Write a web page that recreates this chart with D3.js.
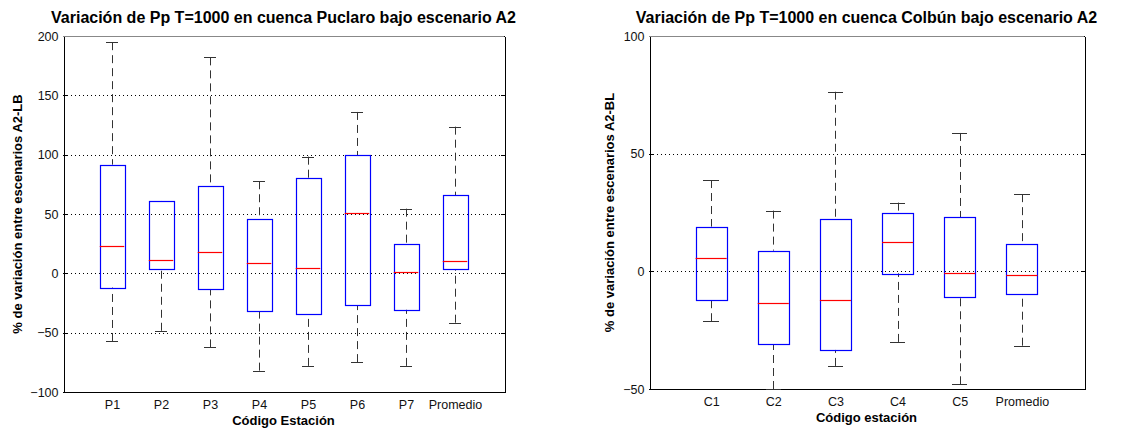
<!DOCTYPE html>
<html>
<head>
<meta charset="utf-8">
<script src="https://cdn.jsdelivr.net/npm/d3@7"></script>
<style>
  body { margin: 0; background: #fff; }
  svg { font-family: "Liberation Sans", Arial, sans-serif; display: block; }
</style>
</head>
<body>
<script>
// Puclaro basin, scenario A2 vs LB
const puclaroStations = ["P1", "P2", "P3", "P4", "P5", "P6", "P7", "Promedio"];
const puclaroLower = [-57, -48.4, -62.4, -82, -78, -74.8, -78, -41.6];
const puclaroQ1 = [-12, 3.6, -13.2, -31.8, -34.3, -26.7, -30.7, 3.4];
const puclaroMedian = [23, 11, 18.2, 9, 4.7, 51, 0.8, 10];
const puclaroQ3 = [91.6, 61, 74, 46, 80.4, 99.7, 25, 65.8];
const puclaroUpper = [194.8, 61, 182, 77.6, 98.3, 136, 54.5, 123.6];
const puclaroTicks = [-100, -50, 0, 50, 100, 150, 200];

// Colbun basin, scenario A2 vs BL
const colbunStations = ["C1", "C2", "C3", "C4", "C5", "Promedio"];
const colbunLower = [-21.2, -50, -40.2, -30, -48, -31.6];
const colbunQ1 = [-12.2, -30.9, -33.4, -0.85, -11, -9.8];
const colbunMedian = [5.7, -13.3, -12, 12.5, -0.6, -1.4];
const colbunQ3 = [19, 8.8, 22.1, 25, 23, 11.6];
const colbunUpper = [38.8, 25.8, 76.3, 29.2, 58.8, 32.8];
const colbunTicks = [-50, 0, 50, 100];

const w = 1148;
const h = 428;

const svg = d3.select("body").append("svg").attr("width", w).attr("height", h);
svg.append("rect").attr("width", w).attr("height", h).attr("fill", "#fff");

const px = (v) => Math.round(v) + 0.5;

const drawPanel = (opt) => {
  const n = opt.names.length;
  const x = d3.scaleLinear().domain([0, n + 1]).range([opt.left, opt.right]);
  const y = d3.scaleLinear().domain(opt.domain).range([opt.bottom, opt.top]);
  const g = svg.append("g");

  // grid
  g.selectAll("line.grid")
    .data(opt.ticks)
    .enter()
    .append("line")
    .attr("class", "grid")
    .attr("x1", opt.left)
    .attr("x2", opt.right)
    .attr("y1", (d) => px(y(d)))
    .attr("y2", (d) => px(y(d)))
    .attr("stroke", "#000")
    .attr("stroke-dasharray", "1,3")
    .attr("shape-rendering", "crispEdges");

  // y axis (left, ticks inside)
  const yAxis = d3.axisLeft(y).tickValues(opt.ticks).tickSizeInner(-4).tickSizeOuter(0).tickPadding(5);
  const ya = g.append("g").attr("transform", `translate(${px(opt.left)},0)`).call(yAxis);
  ya.attr("font-family", null);
  ya.selectAll("text").attr("font-size", "12.5px").attr("fill", "#111");

  // right side ticks
  const yAxisR = d3.axisRight(y).tickValues(opt.ticks).tickSizeInner(-4).tickSizeOuter(0).tickFormat("");
  g.append("g").attr("transform", `translate(${px(opt.right)},0)`).call(yAxisR);

  // x axis
  const xAxis = d3.axisBottom(x)
    .tickValues(d3.range(1, n + 1))
    .tickFormat((d) => opt.names[d - 1])
    .tickSize(0)
    .tickPadding(8);
  const xa = g.append("g").attr("transform", `translate(0,${px(opt.bottom)})`).call(xAxis);
  xa.attr("font-family", null);
  xa.selectAll("text").attr("font-size", "12.5px").attr("fill", "#111");
  xa.select(".domain").attr("d", `M${px(opt.left)},0H${px(opt.right)}`);

  // top border
  g.append("line")
    .attr("x1", opt.left).attr("x2", opt.right)
    .attr("y1", px(opt.top)).attr("y2", px(opt.top))
    .attr("stroke", "#888")
    .attr("shape-rendering", "crispEdges");

  svg.selectAll(".domain").attr("stroke", "#000").attr("shape-rendering", "crispEdges");
  svg.selectAll(".tick line").attr("stroke", "#000").attr("shape-rendering", "crispEdges");

  const boxHalf = (x(1) - x(0)) * 0.25;
  const capHalf = (x(1) - x(0)) * 0.125;
  const idx = d3.range(n);

  const boxes = g.selectAll("g.box").data(idx).enter().append("g").attr("class", "box");

  // whiskers
  boxes.append("line")
    .attr("x1", (i) => px(x(i + 1))).attr("x2", (i) => px(x(i + 1)))
    .attr("y1", (i) => y(opt.upper[i])).attr("y2", (i) => y(opt.q3[i]))
    .attr("stroke", "#333").attr("stroke-dasharray", "8,5");
  boxes.append("line")
    .attr("x1", (i) => px(x(i + 1))).attr("x2", (i) => px(x(i + 1)))
    .attr("y1", (i) => y(opt.lower[i])).attr("y2", (i) => y(opt.q1[i]))
    .attr("stroke", "#333").attr("stroke-dasharray", "8,5");
  // caps
  [opt.upper, opt.lower].forEach((arr) => {
    boxes.append("line")
      .attr("x1", (i) => x(i + 1) - capHalf).attr("x2", (i) => x(i + 1) + capHalf)
      .attr("y1", (i) => px(y(arr[i]))).attr("y2", (i) => px(y(arr[i])))
      .attr("stroke", "#333").attr("shape-rendering", "crispEdges");
  });
  // box
  boxes.append("rect")
    .attr("x", (i) => px(x(i + 1) - boxHalf))
    .attr("y", (i) => px(y(opt.q3[i])))
    .attr("width", Math.round(boxHalf * 2))
    .attr("height", (i) => Math.round(y(opt.q1[i]) - y(opt.q3[i])))
    .attr("fill", "none")
    .attr("stroke", "#0000ff")
    .attr("stroke-width", 1.2);
  // median
  boxes.append("line")
    .attr("x1", (i) => x(i + 1) - boxHalf).attr("x2", (i) => x(i + 1) + boxHalf)
    .attr("y1", (i) => px(y(opt.median[i]))).attr("y2", (i) => px(y(opt.median[i])))
    .attr("stroke", "#ff0000").attr("stroke-width", 1.2);

  // title
  svg.append("text")
    .text(opt.title)
    .attr("x", (opt.left + opt.right) / 2)
    .attr("y", 23)
    .attr("text-anchor", "middle")
    .attr("font-size", "16px")
    .attr("font-weight", "bold");

  // x label
  svg.append("text")
    .text(opt.xLabel)
    .attr("x", (opt.left + opt.right) / 2)
    .attr("y", opt.xLabelY)
    .attr("text-anchor", "middle")
    .attr("font-size", "13px")
    .attr("font-weight", "bold");

  // y label
  svg.append("text")
    .text(opt.yLabel)
    .attr("transform", `translate(${opt.yLabelX},${(opt.top + opt.bottom) / 2}) rotate(-90)`)
    .attr("text-anchor", "middle")
    .attr("font-size", "13px")
    .attr("font-weight", "bold");
};

drawPanel({
  names: puclaroStations,
  lower: puclaroLower, q1: puclaroQ1, median: puclaroMedian, q3: puclaroQ3, upper: puclaroUpper,
  ticks: puclaroTicks,
  domain: [-100, 200],
  left: 63, right: 504, top: 36, bottom: 392,
  title: "Variación de Pp T=1000 en cuenca Puclaro bajo escenario A2",
  xLabel: "Código Estación",
  xLabelY: 425,
  yLabel: "% de variación entre escenarios A2-LB",
  yLabelX: 22,
});

drawPanel({
  names: colbunStations,
  lower: colbunLower, q1: colbunQ1, median: colbunMedian, q3: colbunQ3, upper: colbunUpper,
  ticks: colbunTicks,
  domain: [-50, 100],
  left: 649, right: 1084, top: 36, bottom: 389,
  title: "Variación de Pp T=1000 en cuenca Colbún bajo escenario A2",
  xLabel: "Código estación",
  xLabelY: 422,
  yLabel: "% de variación entre escenarios A2-BL",
  yLabelX: 614,
});
</script>
</body>
</html>
